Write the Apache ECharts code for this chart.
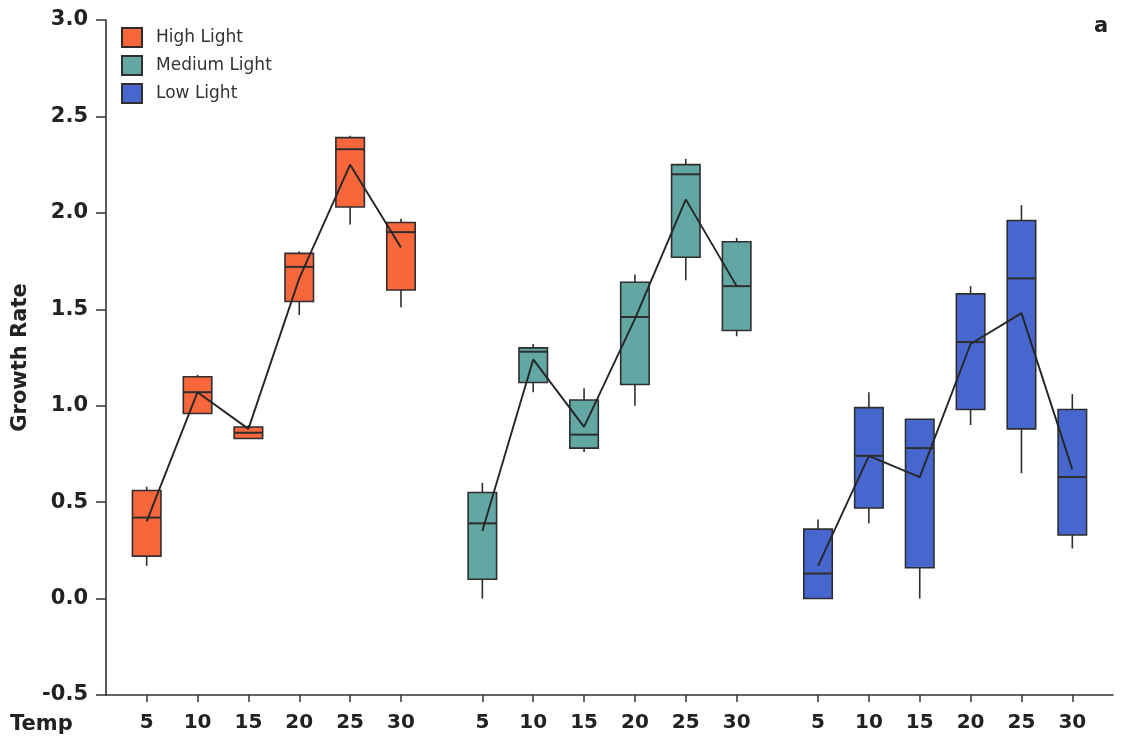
<!DOCTYPE html>
<html>
<head>
<meta charset="utf-8">
<script src="https://cdn.jsdelivr.net/npm/echarts@6/dist/echarts.min.js"></script>
<style>
html,body{margin:0;padding:0;background:#fff;}
#chart{width:1121px;height:741px;}
</style>
</head>
<body>
<div id="chart"></div>
<script>
// ---- data ----
const temps = ['5', '10', '15', '20', '25', '30'];
const seriesNames = ['High Light', 'Medium Light', 'Low Light'];
const yTicks = ['-0.5', '0.0', '0.5', '1.0', '1.5', '2.0', '2.5', '3.0'];
// [min, Q1, median, Q3, max]
const highBoxes = [
  [0.17, 0.22, 0.42, 0.56, 0.58],
  [0.96, 0.96, 1.07, 1.15, 1.16],
  [0.83, 0.83, 0.86, 0.89, 0.90],
  [1.47, 1.54, 1.72, 1.79, 1.80],
  [1.94, 2.03, 2.33, 2.39, 2.40],
  [1.51, 1.60, 1.90, 1.95, 1.97]
];
const highMeans = [0.40, 1.07, 0.88, 1.66, 2.25, 1.82];
const mediumBoxes = [
  [0.00, 0.10, 0.39, 0.55, 0.60],
  [1.07, 1.12, 1.28, 1.30, 1.32],
  [0.76, 0.78, 0.85, 1.03, 1.09],
  [1.00, 1.11, 1.46, 1.64, 1.68],
  [1.65, 1.77, 2.20, 2.25, 2.28],
  [1.36, 1.39, 1.62, 1.85, 1.87]
];
const mediumMeans = [0.35, 1.24, 0.89, 1.45, 2.07, 1.62];
const lowBoxes = [
  [0.00, 0.00, 0.13, 0.36, 0.41],
  [0.39, 0.47, 0.74, 0.99, 1.07],
  [0.00, 0.16, 0.78, 0.93, 0.93],
  [0.90, 0.98, 1.33, 1.58, 1.62],
  [0.65, 0.88, 1.66, 1.96, 2.04],
  [0.26, 0.33, 0.63, 0.98, 1.06]
];
const lowMeans = [0.17, 0.74, 0.63, 1.32, 1.48, 0.67];

// ---- layout helpers ----
const colors = ['#f8663c', '#62a7a3', '#4767cf'];
const edge = '#2e2e2e';
const groupStep = 6.6;
function pos(g, i) { return +(g * groupStep + i).toFixed(2); }
const allBoxes = [highBoxes, mediumBoxes, lowBoxes];
const allMeans = [highMeans, mediumMeans, lowMeans];
const tickPositions = [];
const labelMap = {};
for (let g = 0; g < 3; g++) {
  for (let i = 0; i < temps.length; i++) {
    const p = pos(g, i);
    tickPositions.push(p);
    labelMap[p.toFixed(2)] = temps[i];
  }
}

function renderBox(params, api) {
  const x = api.value(0);
  const lo = api.coord([x, api.value(1)]);
  const q1 = api.coord([x, api.value(2)]);
  const med = api.coord([x, api.value(3)]);
  const q3 = api.coord([x, api.value(4)]);
  const hi = api.coord([x, api.value(5)]);
  const w = api.size([0.56, 0])[0];
  const half = w / 2;
  const cx = med[0];
  const fill = api.visual('color');
  const ls = { stroke: edge, lineWidth: 1.6 };
  return {
    type: 'group',
    children: [
      { type: 'line', shape: { x1: cx, y1: hi[1], x2: cx, y2: q3[1] }, style: ls },
      { type: 'line', shape: { x1: cx, y1: q1[1], x2: cx, y2: lo[1] }, style: ls },
      { type: 'rect', shape: { x: cx - half, y: q3[1], width: w, height: q1[1] - q3[1] },
        style: { fill: fill, stroke: edge, lineWidth: 1.6 } },
      { type: 'line', shape: { x1: cx - half, y1: med[1], x2: cx + half, y2: med[1] }, style: { stroke: edge, lineWidth: 2 } }
    ]
  };
}

const series = [];
for (let g = 0; g < 3; g++) {
  series.push({
    name: seriesNames[g],
    type: 'custom',
    renderItem: renderBox,
    itemStyle: { color: colors[g], borderColor: edge, borderWidth: 1.5 },
    encode: { x: 0, y: [1, 2, 3, 4, 5] },
    data: allBoxes[g].map((b, i) => [pos(g, i)].concat(b)),
    z: 2,
    silent: true
  });
}
for (let g = 0; g < 3; g++) {
  series.push({
    name: seriesNames[g] + ' mean',
    type: 'line',
    symbol: 'none',
    lineStyle: { color: '#262626', width: 1.9 },
    data: allMeans[g].map((m, i) => [pos(g, i), m]),
    z: 5,
    silent: true
  });
}

const chart = echarts.init(document.getElementById('chart'), null, { renderer: 'canvas' });
const boldFont = 'DejaVu Sans';
chart.setOption({
  animation: false,
  backgroundColor: '#ffffff',
  grid: { left: 106, right: 8, top: 20, bottom: 46, containLabel: false },
  legend: {
    data: seriesNames,
    orient: 'vertical',
    left: 121,
    top: 27,
    padding: 0,
    icon: 'rect',
    itemWidth: 20,
    itemHeight: 19,
    itemGap: 7,
    textStyle: { fontFamily: 'DejaVu Sans', fontSize: 17, color: '#333', padding: [0, 0, 0, 9] }
  },
  xAxis: {
    type: 'value',
    min: -0.8,
    max: 19.0,
    splitLine: { show: false },
    axisLine: { show: true, onZero: false, lineStyle: { color: '#333', width: 1.6 } },
    axisTick: { show: true, inside: false, length: 7, customValues: tickPositions, lineStyle: { color: '#333', width: 1.5 } },
    axisLabel: {
      customValues: tickPositions,
      formatter: v => labelMap[(+v).toFixed(2)] || '',
      margin: 18,
      fontFamily: boldFont, fontWeight: 'bold', fontSize: 20, color: '#222'
    }
  },
  yAxis: {
    type: 'value',
    min: -0.5,
    max: 3.0,
    interval: 0.5,
    name: 'Growth Rate',
    nameLocation: 'middle',
    nameGap: 74,
    nameRotate: 90,
    nameTextStyle: { fontFamily: boldFont, fontWeight: 'bold', fontSize: 21, color: '#222' },
    splitLine: { show: false },
    axisLine: { show: true, onZero: false, lineStyle: { color: '#333', width: 1.6 } },
    axisTick: { show: true, length: 10, lineStyle: { color: '#333', width: 1.5 } },
    axisLabel: {
      margin: 18,
      formatter: v => yTicks[Math.round((v + 0.5) / 0.5)],
      fontFamily: boldFont, fontWeight: 'bold', fontSize: 21, color: '#222'
    }
  },
  graphic: [
    { type: 'text', left: 10, top: 714, style: { text: 'Temp', font: 'bold 21px "DejaVu Sans"', fill: '#222' } },
    { type: 'text', left: 1094, top: 16, style: { text: 'a', font: 'bold 21px "DejaVu Sans"', fill: '#222' } }
  ],
  series: series
});
</script>
</body>
</html>
